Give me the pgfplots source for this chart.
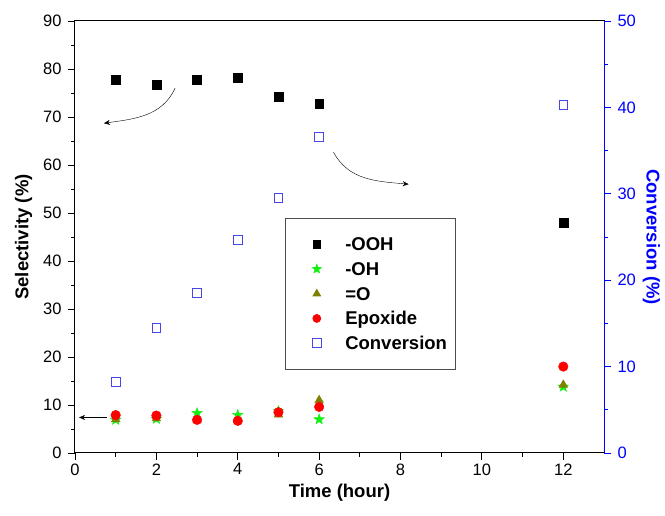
\documentclass[border=0pt]{standalone}
\usepackage{fontspec}
\setmainfont{Liberation Sans}
\usepackage{pgfplots}
\pgfplotsset{compat=1.18}
\usetikzlibrary{arrows.meta}
\definecolor{ooh}{RGB}{0,0,0}
\definecolor{ohgreen}{RGB}{20,240,20}
\definecolor{oolive}{RGB}{128,128,0}
\definecolor{epred}{RGB}{255,0,0}
\definecolor{convblue}{RGB}{70,70,230}
\definecolor{axblue}{RGB}{0,0,255}

\pgfdeclareplotmark{fstar}{%
  \pgfpathmoveto{\pgfpointpolar{90}{\pgfplotmarksize}}%
  \pgfpathlineto{\pgfpointpolar{126}{0.42\pgfplotmarksize}}%
  \pgfpathlineto{\pgfpointpolar{162}{\pgfplotmarksize}}%
  \pgfpathlineto{\pgfpointpolar{198}{0.42\pgfplotmarksize}}%
  \pgfpathlineto{\pgfpointpolar{234}{\pgfplotmarksize}}%
  \pgfpathlineto{\pgfpointpolar{270}{0.42\pgfplotmarksize}}%
  \pgfpathlineto{\pgfpointpolar{306}{\pgfplotmarksize}}%
  \pgfpathlineto{\pgfpointpolar{342}{0.42\pgfplotmarksize}}%
  \pgfpathlineto{\pgfpointpolar{18}{\pgfplotmarksize}}%
  \pgfpathlineto{\pgfpointpolar{54}{0.42\pgfplotmarksize}}%
  \pgfpathclose
  \pgfusepathqfillstroke
}

\pgfplotsset{
  common/.style={
    scale only axis, width=529pt, height=432pt,
    xmin=0, xmax=13,
    tick align=outside,
    major tick length=7pt, minor tick length=4pt,
    tick label style={font=\fontsize{16.5}{19}\selectfont},
    label style={font=\bfseries\fontsize{18.5}{22}\selectfont},
    /pgf/number format/assume math mode=true,
    every tick/.style={line width=0.9pt},
  },
  % marker centred in a wider invisible box, so the legend text sits apart
  legmark/.style={legend image code/.code={%
    \path (-23pt,0pt) (28pt,0pt);
    \draw[##1] plot coordinates {(0pt,0pt)};}},
}

\begin{document}
\begin{tikzpicture}
\begin{axis}[
  common,
  name=ax,
  ymin=0, ymax=90,
  xtick={0,2,...,12}, minor xtick={1,3,...,11},
  ytick={0,10,...,90}, minor ytick={5,15,...,85},
  xtick pos=bottom, ytick pos=left,
  yticklabel style={xshift=-3pt},
  axis line style={line width=1pt},
  xlabel={Time (hour)},
  ylabel={Selectivity (\%)},
  xlabel style={yshift=-2pt},
  ylabel style={yshift=4pt},
]
\addplot[only marks, mark=square*, mark size=4.4pt, color=ooh] coordinates {
  (1,77.7) (2,76.7) (3,77.8) (4,78.2) (5,74.3) (6,72.7) (12,48.0)
};
\addplot[only marks, mark=fstar, mark size=5.5pt, color=ohgreen] coordinates {
  (1,6.9) (2,7.1) (3,8.3) (4,7.9) (5,8.7) (6,7.0) (12,13.8)
};
\addplot[only marks, mark=triangle*, mark size=5pt, color=oolive] coordinates {
  (1,7.0) (2,7.2) (3,6.9) (4,6.8) (5,8.0) (6,11.0) (12,14.2)
};
\addplot[only marks, mark=*, mark size=4.8pt, color=epred] coordinates {
  (1,7.9) (2,7.8) (3,6.9) (4,6.7) (5,8.5) (6,9.6) (12,18.0)
};
\draw[-{Stealth[length=6pt,width=5pt]}, thin] (axis cs:2.46,76) to[out=-115,in=8] (axis cs:0.71,68.7);
\draw[-{Stealth[length=6pt,width=5pt]}, thin] (axis cs:6.35,62.7) to[out=-62,in=175] (axis cs:8.2,56);
\draw[-{Stealth[length=6pt,width=5pt]}, thin] (axis cs:0.78,7.4) -- (axis cs:0.1,7.4);
\end{axis}

\begin{axis}[
  common,
  ymin=0, ymax=50,
  axis x line=none,
  axis y line*=right,
  ytick={0,10,...,50}, minor ytick={5,15,...,45},
  axis line style={line width=1pt, draw=axblue},
  y tick style={axblue},
  y tick label style={text=axblue, xshift=3pt},
  ylabel={Conversion (\%)},
  ylabel style={text=axblue, rotate=180},
  legend style={
    at={(0.397,0.544)}, anchor=north west,
    draw=black!70, line width=0.7pt,
    font=\bfseries\fontsize{18.5}{22}\selectfont,
    row sep=10.7pt, inner xsep=8pt, inner ysep=19pt,
    nodes={inner sep=0pt, text height=13.5pt, text depth=0.5pt},
  },
  legend cell align=left,
]
\addlegendimage{legmark, only marks, mark=square*, mark size=3.6pt, color=ooh}
\addlegendentry{-OOH}
\addlegendimage{legmark, only marks, mark=fstar, mark size=4.6pt, color=ohgreen}
\addlegendentry{-OH}
\addlegendimage{legmark, only marks, mark=triangle*, mark size=4.4pt, color=oolive}
\addlegendentry{=O}
\addlegendimage{legmark, only marks, mark=*, mark size=4pt, color=epred}
\addlegendentry{Epoxide}
\addplot[legmark, only marks, mark=square, mark size=4.3pt, line width=0.9pt, color=convblue] coordinates {
  (1,8.25) (2,14.5) (3,18.55) (4,24.65) (5,29.55) (6,36.6) (12,40.3)
};
\addlegendentry{Conversion}
\end{axis}
% page size as in the reference
\path (ax.south west) ++(-75pt,-63pt) (ax.north east) ++(61pt,21pt);
\end{tikzpicture}
\end{document}
